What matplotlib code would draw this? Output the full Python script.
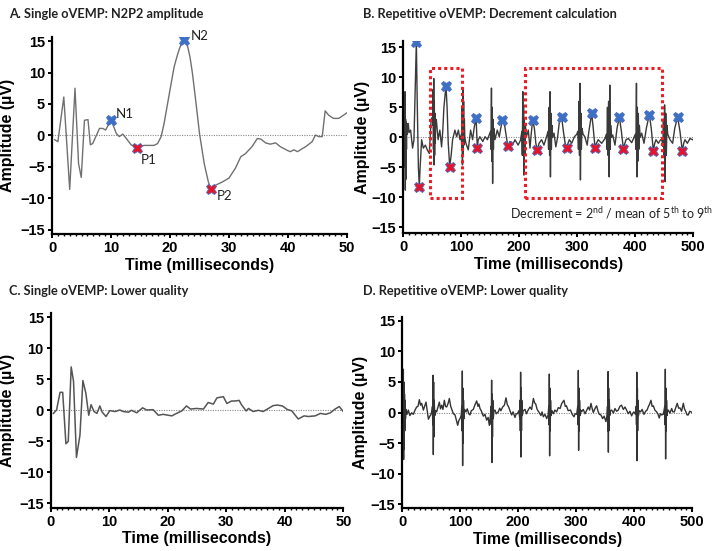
import matplotlib
matplotlib.use("Agg")
import matplotlib.pyplot as plt
from matplotlib.ticker import MultipleLocator
from matplotlib.patches import Rectangle

# ---------------- data ----------------
# Panel A: single oVEMP (time ms, amplitude uV)
a_t = [0.45, 1.0, 2.0, 3.0, 3.9, 4.5, 4.96, 5.5, 6.1, 6.5, 6.9, 8.05, 8.6, 9.1, 10.0, 10.9, 11.4, 12.0,
       12.6, 13.4, 14.4, 15.6, 17.3, 17.9, 18.5, 19.0, 19.9, 20.7, 21.2, 21.6, 22.0, 22.3, 22.6, 23.0, 23.4,
       23.8, 24.4, 25.0, 25.8, 26.5, 26.9, 27.8, 28.9, 30.0, 31.1, 32.0, 32.8, 33.9, 34.8, 35.4, 36.2,
       37.0, 37.9, 38.7, 39.9, 40.4, 41.0, 41.6, 42.1, 43.0, 44.1, 44.65, 45.2, 45.8, 46.3, 46.9, 47.7,
       48.6, 49.4, 50.0]
a_v = [-0.7, -1.0, 6.1, -8.6, 7.5, -4.5, -6.7, 2.4, 2.5, -1.5, -1.3, 1.1, 1.1, 0.85, 2.5, 0.3, -0.2, 0.2,
       -0.5, -1.5, -2.0, -1.6, -1.6, -1.3, -0.2, 1.9, 6.7, 10.9, 12.6, 13.8, 14.7, 15.2, 15.0, 14.1, 12.4,
       9.9, 5.2, 0.3, -4.5, -7.4, -8.5, -7.9, -7.4, -6.8, -5.2, -3.4, -2.9, -1.8, -0.5, -0.6, -1.2,
       -1.4, -1.2, -1.8, -2.4, -2.6, -2.3, -2.6, -2.3, -1.8, -1.0, 0.05, -0.2, -0.2, 3.9, 3.2, 2.7,
       2.7, 3.2, 3.6]
a_peak_names = ["N1", "P1", "N2", "P2"]
a_peak_t = [10.0, 14.4, 22.3, 26.9]
a_peak_v = [2.5, -2.0, 15.2, -8.5]

# Panel C: single oVEMP, lower quality
c_t = [0.46, 1.0, 1.6, 2.05, 2.6, 3.0, 3.5, 3.9, 4.4, 5.0, 5.5, 6.0, 6.5, 6.9, 7.4, 7.9, 8.4, 8.8,
       9.45, 10.1, 11.0, 11.8, 12.4, 13.3, 13.8, 14.7, 15.7, 16.4, 17.5, 18.4, 19.2, 20.7, 21.5, 22.4,
       23.2, 23.9, 24.9, 26.1, 26.9, 27.8, 28.4, 29.5, 30.1, 30.9, 31.5, 32.2, 32.6, 33.4, 33.8, 34.6,
       35.5, 36.3, 37.2, 38.0, 38.7, 39.6, 40.4, 41.2, 42.3, 43.3, 44.0, 45.2, 46.1, 47.0, 47.8, 48.6,
       49.3, 50.0]
c_v = [-0.5, 0.05, 2.9, 2.9, -5.4, -5.0, 7.0, 4.7, -7.6, -4.0, 4.8, 2.8, -0.8, 0.9, -0.2, -0.5, 0.7, -0.3,
       -1.0, -0.05, -0.2, 0.05, -0.2, -0.3, 0.0, -0.4, 0.4, 0.05, 0.1, -0.8, -0.65, -0.9, -0.5, -0.1,
       0.7, 0.2, 0.3, 0.2, 1.25, 1.0, 2.0, 2.2, 1.1, 1.5, 1.5, 1.6, 0.9, -0.1, 0.3, -0.2,
       0.0, -0.2, 0.3, 0.75, 0.85, 0.7, 0.15, -0.1, -1.4, -0.9, -1.0, -0.9, -0.5, -0.65, -0.4, 0.2,
       0.6, -0.2]

# Panel B: repetitive oVEMP (10 stimuli)
b_t = [0.5, 1, 1.5, 2, 2.5, 3, 3.5, 4, 4.5, 5, 5.5, 6, 7, 8.6, 10, 12.6, 14, 16, 18.4, 20, 22.5, 24, 26, 27.6,
       29, 31.6, 34.5, 38, 41.4, 44.8, 48,
       50, 51, 51.5, 52, 52.5, 53, 53.5, 54, 54.5, 55, 56, 57, 60, 63, 66, 68, 70, 73.6, 75.5, 77.5, 80,
       82.5, 85, 89, 92, 95, 97.7,
       100, 100.8, 101.5, 102, 102.7, 103.3, 104, 104.6, 105.3, 106, 108, 112, 116, 119.5, 122, 125.5,
       127.6, 129, 132, 137, 141, 145, 149.4,
       150.5, 151.2, 152, 152.6, 153.3, 154, 154.7, 155.4, 156, 158, 162, 165.5, 168, 171, 175, 180, 184,
       188.5, 192.5, 198, 202,
       204.5, 205.2, 206, 206.6, 207.3, 208, 208.7, 209.5, 210.5, 212, 215.5, 218.4, 220.5, 223, 226,
       228.5, 231, 234, 238.5, 242.5, 247,
       249.5, 250.5, 251.5, 252.3, 253, 253.7, 254.5, 255.3, 256.2, 257.5, 259.8, 263, 266, 269, 273, 276,
       279, 281.7, 284, 286.3, 290.3, 295, 299,
       301, 302, 303, 303.8, 304.7, 305.4, 306.2, 307, 308, 310, 313, 317, 320, 324.8, 327.5, 330.5, 333,
       336, 342, 347.8,
       350, 351, 352, 353, 354, 355, 356, 356.8, 357.5, 359, 361, 365, 368.5, 372.5, 376, 379.4, 382, 384,
       388, 393.8, 398.3,
       400, 401, 402, 402.8, 403.5, 404.3, 405.2, 406, 407, 408.5, 411, 415, 419, 424.2, 427.5, 431, 433.5,
       435.7, 439.7, 443.7,
       446, 447.5, 448.5, 449.5, 450.5, 451.5, 452.5, 453.5, 454.5, 456, 459.8, 464.4, 468, 473, 477, 481,
       483.5, 485.7, 489.7, 494.3, 499]
b_v = [0, 4, -3, 6.5, -5, 7.6, -8.8, 3, -7, 2.5, -2, 2.3, 0.5, 2.3, 0.8, 1.2, 0, -1.8, -0.4, 6, 15.9, 6, -5, -8.2,
       -5, -0.4, -1.8, -1.3, -2.1, -2.7, 3.0,
       3.3, 2, 8, -2, 9.8, -4.6, 6, -3, 4, -1, 3, 2.9, -0.4, 1.2, -1.6, 1, 5, 8.6, 5, -1, -4.9,
       -3, -0.4, 1.2, 0.1, 1.2, -0.4,
       0.5, -2, 5, -4.6, 8.2, -3, 6, -1.3, 3, 0, -1, -2.1, 1.2, -0.4, 1.5, 3.3,
       -1.8, -0.5, 0.1, -0.7, 0.1, -0.4, 0.7,
       1, -2, 8.2, -4, 5, -7.7, 3, -2, 1.5, -0.4, 1.2, 0.1, 1.5, 2.9, 1.8, -1.4, -0.7,
       -1.3, -0.4, -1.3, -0.5,
       1, -3, 7.6, -2, 5, -6.3, 3, -3, 2, 0, 1.2, -1.8, 0.5, 2.9, 1.5,
       -1, -2.1, -1, -0.4, -1.3, 0.1,
       1, -2, 5, -3, 7.6, -6.6, 4, -2, 2, 0, 0.7, -1.6, 0, 2.5, 3.4, 1,
       -1, -1.7, -1, -0.4, -1, 0.1, 0.5,
       1, -2, 6, -3, 9.0, -7.1, 4, -2, 1.5, 0.5, 0.1, -1.3, 1, 4.0, 1.5, -1.7, -1,
       -0.4, -1, -0.2,
       0.5, -2, 5, -3, 6, -6.6, 8.7, -2, 2, 0, 0.4, -1.3, 1.5, 3.4, 1, -1.9, -1, -0.4,
       -0.2, -0.9, 0.1,
       0.5, -2, 9.0, -6.6, 5, -4, 4, -2, 2, 0, 0.7, -1, 1.5, 3.8, 1.5, -2.2, -1,
       -0.4, -1, -0.4,
       -0.5, -1.5, 3, -3, 5.4, -7.4, 4, -3, 2, 0.5, -0.4, -1, 1.5, 3.4, 1, -2.2,
       -1, -0.4, -1, -0.2, -0.4]
b_n_t = [22.5, 73.6, 125.5, 171, 223, 273, 324.8, 372.5, 424.2, 473]
b_n_v = [15.9, 8.6, 3.3, 2.9, 2.9, 3.4, 4.0, 3.4, 3.8, 3.4]
b_p_t = [27.6, 80, 127.6, 180, 231, 281.7, 330.5, 379.4, 431, 481]
b_p_v = [-8.2, -4.9, -1.8, -1.4, -2.1, -1.7, -1.7, -1.9, -2.2, -2.2]
b_boxes = [(46, 101, -10.1, 11.5), (210, 446, -10.1, 11.5)]  # (t0, t1, v0, v1)

# Panel D: repetitive oVEMP, lower quality
d_t = [0, 0.8, 1.3, 1.8, 2.3, 2.8, 3.3, 3.8, 4.3, 4.8, 5.5, 6.5, 8, 10.4, 13, 16.2, 19, 22, 24.7, 27, 29.4, 31.5,
       33.4, 36.3, 38.5, 40.9, 43, 45, 47.5, 49, 51,
       52, 52.5, 53, 53.5, 54, 54.5, 55, 56, 57.5, 59.2, 61.5, 63.9, 65.8, 67.9, 70, 72.5, 74.5, 76.5, 79,
       81.1, 83.5, 85.7, 88, 90.9, 93, 95.5, 97.5, 99.5, 101.5,
       102.5, 103, 103.5, 104, 104.5, 105, 105.5, 106.2, 107.5, 109.8, 112, 114.5, 116.7, 119, 122.4, 125,
       128.2, 130.5, 132, 134, 136.5, 139.7, 142.5, 145.5, 148, 150, 152,
       153, 153.5, 154, 154.5, 155, 155.5, 156, 156.8, 158, 159.8, 162, 165.5, 168, 170, 173, 176, 178.8,
       181, 183.4, 186, 188.6, 191, 194.3, 196.5, 198.4, 201,
       202.5, 203, 203.5, 204, 204.5, 205, 205.5, 206, 206.8, 208.5, 211.6, 214, 217, 220.2, 223, 226, 228,
       230, 232.5, 236.3, 239, 241, 243.2, 246, 249, 251.5,
       252.5, 253, 253.5, 254, 254.5, 255, 255.6, 256.4, 258, 260.5, 263, 266, 269, 272, 275, 278.7, 281,
       283, 286, 290, 293, 296, 298, 300.6,
       302.5, 303, 303.5, 304, 304.5, 305, 305.6, 306.4, 307.5, 309, 312, 315, 318, 320.7, 323, 325.3,
       327.5, 329.3, 332, 335, 337.5, 339.7, 342.5, 345.4, 348, 351.1, 353,
       353.8, 354.3, 354.8, 355.3, 355.8, 356.3, 356.9, 357.6, 359, 361, 364, 366.7, 369.5, 372.4, 375,
       378, 381, 384, 387, 389.7, 392.5, 395.4, 397.5, 399.4, 402,
       403.3, 403.8, 404.3, 404.8, 405.3, 405.8, 406.4, 407.1, 408.5, 411, 413.5, 416.7, 419.5, 422, 424,
       426.5, 428.7, 430.8, 432.8, 435.5, 438.5, 441, 443, 445, 447, 450,
       452.5, 453, 453.5, 454, 454.5, 455, 455.6, 456.3, 457.5, 458.6, 461.5, 464.4, 466.5, 469, 471.5,
       474, 476.5, 478.7, 481.5, 484.5, 486.5, 489, 491, 493, 495.5, 497.7, 500]
d_v = [0, 3, -5, 7.1, -7.7, 5, -6, 3, -3, 2, -1, 0.5, -0.3, 0.4, -0.5, -0.05, -0.3, 0.4, 0.9, 1, 2.1, 1.2,
       1.5, 0.4, 1, 1.7, 0.2, -1.1, -0.6, -0.4, 0.2,
       1, -2, 6.1, -6.9, 5, -4, 2, -0.5, 0.3, 0.1, 0.9, 1.7, 0.6, 1.2, 0.5, 2.0, 1.0, 0.9, 1.5,
       2.3, 1.0, 0.4, -0.2, -0.4, -1.2, -2.1, -1.3, -1, -0.5,
       1, -3, 6.8, -8.7, 4, -5, 2, -1, 0.5, 0.1, 0.6, -0.2, -0.4, 0.3, 0.5, 1.2,
       1.9, 1.0, 1.4, 0.65, 0.2, -0.6, -0.3, -1.25, -0.8, -2.1, -0.5,
       1, -2, 5.3, -8.2, 3, -4, 2, -1, 0.3, 0.4, -0.2, 0.1, 0.7, 0.3, 0.9, 1.2, 2.4,
       1.3, 0.9, 0.2, -0.4, 0.1, -0.8, -0.2, -0.2, 0.3,
       -1, 2, -3, 6.6, -7.3, 4, -3, 2, -0.5, 0.3, 0.5, -0.2, 0.4, 0.9, 0.5, 2.3, 1.6,
       1.4, 0.5, -0.05, -0.5, 0.1, -0.7, -0.3, -1, -0.4,
       1, -2, 6.3, -7.1, 4, -3, 2, -0.5, 0.3, -0.2, 0.4, 0.1, 0.8, 0.65, 1.5, 2.0, 1.0,
       1.1, 0.3, 0.4, -0.3, -0.7, -0.2, -0.3,
       1, -2, 6.9, -6.2, 4, -3, 2, -0.5, 0.4, 0.1, 0.5, -0.2, 0.4, 0.9, 0.4, 1.5,
       0.6, 0, 0.6, 1.1, 0.2, -0.3, -0.4, -1, -0.6, -1.5, -0.5,
       1, -3, 6.7, -6.5, 4, -3, 2, -0.5, 0.3, 0.4, -0.1, 0.65, 0.2, 0.4, 1.0,
       1.2, 0.5, 0.9, 0.3, -0.2, 0.2, -0.55, -0.1, 0.1, -0.3,
       1, -2, 6.6, -7.9, 4, -3, 2, -0.5, 0.3, 0.1, 0.5, -0.3, 0.2, 0.4, 0.9,
       1.4, 2.0, 1.0, 1.1, 0.4, 0.1, -0.3, -0.9, -0.2, -0.4, -0.3,
       1, -2, 7.1, -7.6, 4, -3, 2, -0.5, 0.3, 0.4, -0.1, 0.65, 0.1, 0.1, 0.8,
       1.5, 0.7, 0.75, 0.2, 1.5, 0.6, 0.1, -0.4, -0.4, 0.2, 0.1, 0]

y_ticks = [-15, -10, -5, 0, 5, 10, 15]
titles = ["A. Single oVEMP: N2P2 amplitude", "B. Repetitive oVEMP: Decrement calculation",
          "C. Single oVEMP: Lower quality", "D. Repetitive oVEMP: Lower quality"]

# ---------------- figure ----------------
W, H = 719, 551
fig = plt.figure(figsize=(W / 100, H / 100), dpi=100)

def px_axes(x0, x1, ytop, ybot):
    return fig.add_axes([x0 / W, 1 - ybot / H, (x1 - x0) / W, (ybot - ytop) / H])

axA = px_axes(52, 347, 36.7, 234)
axB = px_axes(403.3, 693.3, 41.3, 233.3)
axC = px_axes(50.7, 343.3, 313, 507.6)
axD = px_axes(402.3, 692.3, 316.7, 508.3)

LABFONT = dict(family="Liberation Sans", weight="bold", size=11.5)
TXT = ["Lato", "DejaVu Sans"]

def style(ax, xmax, xmajor, xminor, ylim, ylab_x):
    ax.set_xlim(0, xmax)
    ax.set_ylim(*ylim)
    for s in ("top", "right"):
        ax.spines[s].set_visible(False)
    for s in ("left", "bottom"):
        ax.spines[s].set_linewidth(1.6)
    ax.set_yticks(y_ticks)
    ax.xaxis.set_major_locator(MultipleLocator(xmajor))
    ax.xaxis.set_minor_locator(MultipleLocator(xminor))
    ax.tick_params(axis="both", which="major", direction="out", length=3, width=1.4, pad=2)
    ax.tick_params(axis="x", which="minor", direction="out", length=1.6, width=1.0)
    for lab in ax.get_xticklabels() + ax.get_yticklabels():
        lab.set_family("Liberation Sans"); lab.set_weight("bold"); lab.set_size(10.5)
    ax.set_xlabel("Time (milliseconds)", **LABFONT, labelpad=2)
    ax.set_ylabel("Amplitude (µV)", **LABFONT)
    ax.yaxis.set_label_coords(ylab_x, 0.5)
    ax.axhline(0, color="#888888", lw=0.8, ls=(0, (1, 1.2)), zorder=1)

# Panel A
axA.plot(a_t, a_v, color="#707070", lw=1.0, zorder=2)
style(axA, 50, 10, 1, (-15.7, 15.7), -0.125)
offsets = {"N1": (5, 6), "P1": (4, -12), "N2": (7, 4), "P2": (6, -7)}
for name, t, v in zip(a_peak_names, a_peak_t, a_peak_v):
    col = "#3c6fc6" if name.startswith("N") else "#e5142c"
    axA.plot([t], [v], marker="X", ms=7.5, color=col, mec="#4a6fc0", mew=0.6, zorder=3, ls="none")
    axA.annotate(name, (t, v), xytext=offsets[name], textcoords="offset pixels",
                 ha="left", va="center", fontsize=9.5, family=TXT, color="#222222")

# Panel B
axB.plot(b_t, b_v, color="#3a3a3a", lw=1.0, zorder=2)
style(axB, 500, 100, 10, (-16, 16), -0.115)
axB.plot(b_n_t, b_n_v, marker="X", ms=7.5, color="#3c6fc6", mec="#4a6fc0", mew=0.6, ls="none", zorder=3)
axB.plot(b_p_t, b_p_v, marker="X", ms=7.5, color="#e5142c", mec="#4a6fc0", mew=0.6, ls="none", zorder=3)
for t0, t1, v0, v1 in b_boxes:
    axB.add_patch(Rectangle((t0, v0), t1 - t0, v1 - v0, fill=False, ec="#ee1c25",
                            lw=2.2, ls=(0, (1, 1)), zorder=4))
axB.text(184, -12.6, "Decrement = 2$^{\\mathregular{nd}}$ / mean of 5$^{\\mathregular{th}}$ to 9$^{\\mathregular{th}}$",
         ha="left", va="center", fontsize=9, family=TXT, color="#222222", clip_on=False)

# Panel C
axC.plot(c_t, c_v, color="#555555", lw=1.1, zorder=2)
style(axC, 50, 10, 1, (-15.7, 15.7), -0.122)

# Panel D
axD.plot(d_t, d_v, color="#333333", lw=1.0, zorder=2)
style(axD, 500, 100, 10, (-15.7, 15.7), -0.117)

# Titles
for (x, y), t in zip([(9, 14), (363, 14), (9, 291), (363, 291)], titles):
    fig.text(x / W, 1 - y / H, t, ha="left", va="center", fontsize=9.2, weight="bold",
             family=TXT, color="#222222")

fig.savefig("out.png", dpi=100)
